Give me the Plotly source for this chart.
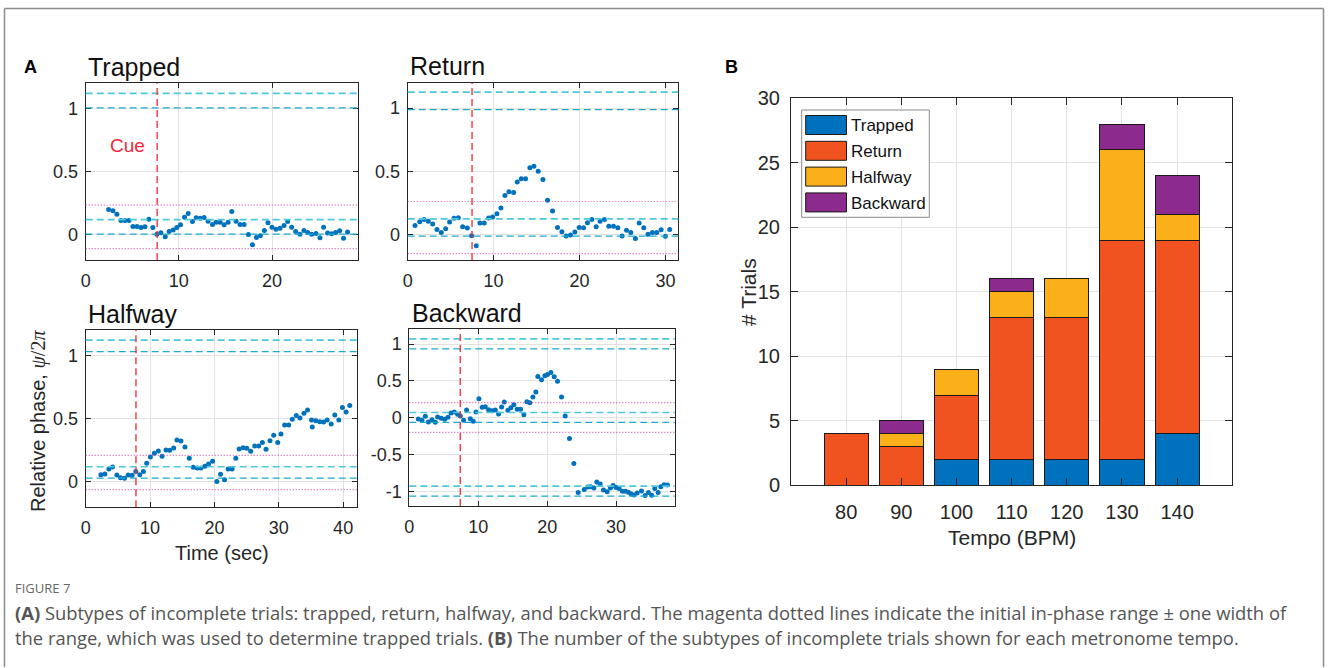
import plotly.graph_objects as go

W, H = 1328, 668
FONT = "Liberation Sans, Arial, sans-serif"
AX_COLOR = "#262626"
GRID = "#e2e2e2"

# ---------------- Panel A: relative phase time series ----------------
panel_names = ["Trapped", "Return", "Halfway", "Backward"]

trapped_t = [2.46, 2.93, 3.35, 3.78, 4.21, 4.64, 5.07, 5.50, 5.93, 6.36,
             6.78, 7.21, 7.64, 8.07, 8.54, 8.96, 9.39, 9.79, 10.18, 10.61,
             11.00, 11.46, 11.86, 12.29, 12.71, 13.14, 13.61, 14.00, 14.43, 14.86,
             15.29, 15.68, 16.14, 16.57, 17.00, 17.47, 17.90, 18.32, 18.75, 19.18,
             19.57, 20.00, 20.43, 20.86, 21.29, 21.68, 22.11, 22.54, 23.00, 23.43,
             23.83, 24.26, 24.72, 25.15, 25.54, 25.97, 26.40, 26.83, 27.26, 27.68,
             28.11]
trapped_phase = [0.200, 0.190, 0.163, 0.113, 0.113, 0.113, 0.066, 0.066, 0.058, 0.063,
                 0.123, 0.058, 0.005, 0.016, -0.016, 0.026, 0.037, 0.058, 0.079, 0.139,
                 0.168, 0.105, 0.134, 0.131, 0.137, 0.108, 0.081, 0.100, 0.100, 0.079,
                 0.100, 0.184, 0.108, 0.081, 0.081, 0.002, -0.079, -0.021, -0.008, 0.034,
                 0.095, 0.060, 0.044, 0.052, 0.073, 0.105, 0.060, 0.026, 0.005, 0.034,
                 0.018, 0.005, 0.010, -0.024, 0.060, 0.013, 0.008, 0.018, 0.031, -0.027,
                 0.021]

return_t = [0.85, 1.40, 1.90, 2.40, 2.91, 3.41, 3.91, 4.42, 4.88, 5.39,
            5.89, 6.40, 6.94, 7.44, 7.98, 8.41, 8.91, 9.42, 9.88, 10.39,
            10.85, 11.32, 11.78, 12.33, 12.75, 13.22, 13.72, 14.22, 14.69, 15.19,
            15.74, 16.28, 16.86, 17.44, 17.95, 18.45, 18.95, 19.46, 19.96, 20.47,
            20.93, 21.43, 21.94, 22.40, 22.91, 23.41, 23.95, 24.46, 24.96, 25.47,
            25.97, 26.51, 26.94, 27.48, 27.98, 28.49, 28.99, 29.50, 30.00, 30.50]
return_phase = [0.072, 0.103, 0.119, 0.106, 0.085, 0.041, 0.018, 0.046, 0.101, 0.129,
                0.134, 0.062, 0.052, -0.008, -0.088, 0.093, 0.093, 0.131, 0.139, 0.165,
                0.211, 0.309, 0.338, 0.333, 0.415, 0.441, 0.441, 0.528, 0.541, 0.500,
                0.436, 0.271, 0.186, 0.057, 0.023, -0.010, -0.003, 0.021, 0.057, 0.054,
                0.095, 0.119, 0.062, 0.106, 0.119, 0.067, 0.067, 0.054, -0.010, 0.034,
                0.018, -0.031, 0.093, 0.054, 0.003, 0.018, 0.018, 0.039, -0.013, 0.041]

halfway_t = [2.36, 2.98, 3.60, 4.17, 4.84, 5.41, 6.03, 6.59, 7.21, 7.78,
             8.40, 8.97, 9.48, 10.05, 10.67, 11.29, 11.86, 12.48, 13.05, 13.67,
             14.18, 14.80, 15.42, 16.09, 16.71, 17.33, 17.90, 18.52, 19.09, 19.71,
             20.38, 20.95, 21.57, 22.13, 22.75, 23.32, 23.84, 24.46, 25.03, 25.64,
             26.26, 26.88, 27.45, 28.02, 28.64, 29.21, 29.83, 30.34, 30.91, 31.53,
             32.10, 32.72, 33.29, 33.91, 34.47, 35.09, 35.20, 35.76, 36.38, 36.95,
             37.52, 38.14, 38.71, 39.33, 39.89, 40.46, 41.03]
halfway_phase = [0.058, 0.063, 0.103, 0.118, 0.055, 0.034, 0.029, 0.055, 0.053, 0.082,
                 0.058, 0.082, 0.147, 0.197, 0.226, 0.245, 0.203, 0.253, 0.250, 0.268,
                 0.332, 0.324, 0.276, 0.187, 0.116, 0.111, 0.111, 0.124, 0.142, 0.163,
                 0.003, 0.061, 0.018, 0.103, 0.103, 0.187, 0.261, 0.271, 0.266, 0.242,
                 0.284, 0.284, 0.311, 0.258, 0.326, 0.368, 0.311, 0.379, 0.450, 0.450,
                 0.495, 0.524, 0.505, 0.542, 0.568, 0.489, 0.434, 0.484, 0.476, 0.474,
                 0.489, 0.458, 0.529, 0.489, 0.589, 0.553, 0.603]

backward_t = [1.31, 1.84, 2.32, 2.76, 3.29, 3.77, 4.11, 4.64, 5.13, 5.61,
              6.04, 6.53, 7.01, 7.40, 7.88, 8.31, 8.85, 9.28, 9.67, 10.10,
              10.58, 11.02, 11.50, 11.99, 12.47, 12.95, 13.39, 13.77, 14.30, 14.74,
              15.17, 15.66, 16.14, 16.62, 17.06, 17.49, 17.93, 18.36, 18.65, 19.18,
              19.67, 20.05, 20.54, 21.02, 21.50, 22.08, 22.61, 23.24, 23.87, 24.50,
              25.37, 25.90, 26.29, 26.77, 27.20, 27.69, 28.17, 28.70, 29.18, 29.57,
              30.00, 30.44, 30.92, 31.36, 31.79, 32.18, 32.61, 33.05, 33.68, 34.21,
              34.69, 35.17, 35.61, 36.09, 36.48, 36.96, 37.45]
backward_phase = [-0.018, -0.036, 0.018, -0.059, -0.027, -0.063, 0.009, -0.009, -0.023, 0.005,
                  0.063, 0.077, 0.045, 0.023, -0.036, 0.104, -0.014, -0.050, 0.077, 0.257,
                  0.140, 0.149, 0.108, 0.095, 0.104, 0.050, 0.144, 0.212, 0.099, 0.135,
                  0.176, 0.113, 0.113, 0.041, 0.216, 0.203, 0.279, 0.347, 0.559, 0.514,
                  0.568, 0.586, 0.613, 0.554, 0.495, 0.279, 0.023, -0.284, -0.622, -1.018,
                  -0.977, -0.941, -0.937, -0.955, -0.874, -0.901, -0.982, -1.005, -0.955, -0.923,
                  -0.950, -0.964, -1.000, -1.000, -1.014, -1.036, -1.050, -1.023, -0.995, -1.059,
                  -1.018, -1.054, -0.964, -1.018, -0.937, -0.910, -0.914]

series_t = [trapped_t, return_t, halfway_t, backward_t]
series_phase = [trapped_phase, return_phase, halfway_phase, backward_phase]

cue_times = [7.67, 7.49, 7.81, 7.39]
inphase_lo = [0.005, -0.012, 0.030, -0.065]
inphase_hi = [0.120, 0.125, 0.120, 0.070]
time_max = [29.2, 31.5, 42.2, 38.5]
phase_lims = [(-0.2, 1.2), (-0.2, 1.2), (-0.2, 1.2), (-1.2, 1.2)]
time_ticks = [[0, 10, 20], [0, 10, 20, 30], [0, 10, 20, 30, 40], [0, 10, 20, 30]]
phase_ticks = [[0, 0.5, 1], [0, 0.5, 1], [0, 0.5, 1], [-1, -0.5, 0, 0.5, 1]]
phase_ticktext = [["0", "0.5", "1"], ["0", "0.5", "1"], ["0", "0.5", "1"],
                  ["-1", "-0.5", "0", "0.5", "1"]]

# ---------------- Panel B: subtype counts per tempo ----------------
tempos = [80, 90, 100, 110, 120, 130, 140]
subtypes = ["Trapped", "Return", "Halfway", "Backward"]
n_trapped = [0, 0, 2, 2, 2, 2, 4]
n_return = [4, 3, 5, 11, 11, 17, 15]
n_halfway = [0, 1, 2, 2, 3, 7, 2]
n_backward = [0, 1, 0, 1, 0, 2, 3]
counts = [n_trapped, n_return, n_halfway, n_backward]
subtype_colors = ["#0072BD", "#F0531F", "#FBB01A", "#8C2A8E"]


def px(x):
    return x / W


def py(y):
    return 1 - y / H


# pixel boxes (left, right, top, bottom) of each axes
panel_boxes = [(85.7, 357.7, 83.3, 260.0), (407.7, 678.3, 82.7, 260.0),
               (85.7, 357.3, 330.0, 507.3), (409.3, 674.7, 329.3, 506.0)]
bar_box = (791.0, 1232.3, 98.3, 485.3)

fig = go.Figure()
layout = dict(width=W, height=H,
              margin=dict(l=0, r=0, t=0, b=0, pad=0, autoexpand=False),
              paper_bgcolor="white", plot_bgcolor="white", showlegend=False,
              font=dict(family=FONT, color=AX_COLOR))
shapes = []
annotations = []


def axis_style(**kw):
    d = dict(showline=True, linecolor=AX_COLOR, linewidth=1, mirror="ticks",
             ticks="inside", tickcolor=AX_COLOR, showgrid=True, gridcolor=GRID,
             gridwidth=1, zeroline=False, automargin=False,
             tickfont=dict(family=FONT, size=18, color=AX_COLOR))
    d.update(kw)
    return d


for i in range(4):
    sfx = "" if i == 0 else str(i + 1)
    xr, yr = "x" + sfx, "y" + sfx
    l, r, t, b = panel_boxes[i]
    lo, hi = inphase_lo[i], inphase_hi[i]
    ymin, ymax = phase_lims[i]
    layout["xaxis" + sfx] = axis_style(domain=[px(l), px(r)], anchor=yr,
                                       range=[0, time_max[i]], tickvals=time_ticks[i],
                                       ticklen=5, ticklabelstandoff=4)
    layout["yaxis" + sfx] = axis_style(domain=[py(b), py(t)], anchor=xr,
                                       range=[ymin, ymax], tickvals=phase_ticks[i],
                                       ticktext=phase_ticktext[i], ticklen=5,
                                       ticklabelstandoff=3)

    fig.add_trace(go.Scatter(x=series_t[i], y=series_phase[i], mode="markers",
                             marker=dict(color="#0072BD", size=5, line=dict(width=0)),
                             xaxis=xr, yaxis=yr, hoverinfo="x+y"))

    # in-phase range (and its copies one cycle away) as cyan dashed lines
    for k in (-1, 0, 1):
        for val, col, wd in ((lo + k, "#1aaacd", 1.3), (hi + k, "#4cc9dc", 1.7)):
            if ymin < val < ymax:
                shapes.append(dict(type="line", xref=xr + " domain", yref=yr,
                                   x0=0, x1=1, y0=val, y1=val, layer="above",
                                   line=dict(color=col, width=wd, dash="7px,4px")))
    # initial range +/- one width: magenta dotted
    width = hi - lo
    for val in (lo - width, hi + width):
        shapes.append(dict(type="line", xref=xr + " domain", yref=yr,
                           x0=0, x1=1, y0=val, y1=val, layer="above",
                           line=dict(color="rgba(214,60,172,0.85)", width=1.2,
                                     dash="1px,2px")))
    # cue onset
    shapes.append(dict(type="line", xref=xr, yref=yr + " domain",
                       x0=cue_times[i], x1=cue_times[i], y0=0, y1=1, layer="above",
                       line=dict(color="#f5262e", width=1.3, dash="7px,4px")))

    # panel title
    annotations.append(dict(text=panel_names[i], xref="paper", yref="paper",
                            x=px(l + 0.5), y=py(t - 16.5), xanchor="left", yanchor="middle",
                            showarrow=False, font=dict(family=FONT, size=25, color="#111111")))

annotations.append(dict(text="Cue", xref="x", yref="y", x=4.5, y=0.71, showarrow=False,
                        xanchor="center", yanchor="middle",
                        font=dict(family=FONT, size=19, color="#f0283a")))
annotations.append(dict(text="Time (sec)", xref="paper", yref="paper", x=px(221.7), y=py(553),
                        xanchor="center", yanchor="middle", showarrow=False,
                        font=dict(family=FONT, size=20, color=AX_COLOR)))
annotations.append(dict(
    text=("Relative phase, <span style=\"font-family:Liberation Serif, serif\">"
          "<i>ψ</i>/2<i>π</i></span>"),
    xref="paper", yref="paper", x=px(38), y=py(421), textangle=-90,
    xanchor="center", yanchor="middle", showarrow=False,
    font=dict(family=FONT, size=20, color=AX_COLOR)))

# ---------------- stacked bars ----------------
l, r, t, b = bar_box
layout["xaxis5"] = axis_style(domain=[px(l), px(r)], anchor="y5", range=[70, 150],
                              tickvals=tempos, ticklen=7, ticklabelstandoff=9,
                              tickfont=dict(family=FONT, size=20, color=AX_COLOR))
layout["yaxis5"] = axis_style(domain=[py(b), py(t)], anchor="x5", range=[0, 30],
                              tickvals=[0, 5, 10, 15, 20, 25, 30], ticklen=7,
                              ticklabelstandoff=6,
                              tickfont=dict(family=FONT, size=20, color=AX_COLOR))
for name, vals, col in zip(subtypes, counts, subtype_colors):
    fig.add_trace(go.Bar(x=tempos, y=vals, name=name, width=8, marker=dict(
        color=col, line=dict(color="#1a1a1a", width=1)), xaxis="x5", yaxis="y5"))
layout["barmode"] = "stack"

annotations.append(dict(text="Tempo (BPM)", xref="paper", yref="paper", x=px(1011.7), y=py(537),
                        xanchor="center", yanchor="middle", showarrow=False,
                        font=dict(family=FONT, size=21, color=AX_COLOR)))
annotations.append(dict(text="# Trials", xref="paper", yref="paper", x=px(748), y=py(292),
                        textangle=-90, xanchor="center", yanchor="middle", showarrow=False,
                        font=dict(family=FONT, size=21, color=AX_COLOR)))

# legend box drawn by hand so the swatches keep their wide shape
leg_l, leg_r, leg_t, leg_b = 801.7, 929.3, 110.0, 217.3
shapes.append(dict(type="rect", xref="paper", yref="paper", x0=px(leg_l), x1=px(leg_r),
                   y0=py(leg_b), y1=py(leg_t), line=dict(color="#8a8a8a", width=1),
                   fillcolor="white", layer="above"))
for j, (name, col) in enumerate(zip(subtypes, subtype_colors)):
    yc = 125.0 + j * 25.8
    shapes.append(dict(type="rect", xref="paper", yref="paper", x0=px(805.7), x1=px(846.5),
                       y0=py(yc + 9.5), y1=py(yc - 9.5), fillcolor=col,
                       line=dict(color="#1a1a1a", width=1), layer="above"))
    annotations.append(dict(text=name, xref="paper", yref="paper", x=px(849), y=py(yc + 1),
                            xanchor="left", yanchor="middle", showarrow=False,
                            font=dict(family=FONT, size=17, color="#111111")))

# panel letters
for letter, xl in (("A", 30.7), ("B", 731.7)):
    annotations.append(dict(text="<b>%s</b>" % letter, xref="paper", yref="paper", x=px(xl),
                            y=py(66.7), xanchor="center", yanchor="middle", showarrow=False,
                            font=dict(family=FONT, size=18, color="#000000")))

# caption
CAP_FONT = "Open Sans, Noto Sans, sans-serif"
annotations.append(dict(text="FIGURE 7", xref="paper", yref="paper", x=px(13), y=py(588),
                        xanchor="left", yanchor="middle", showarrow=False,
                        font=dict(family=CAP_FONT, size=13, color="#666666")))
cap1 = ("<b>(A)</b> Subtypes of incomplete trials: trapped, return, halfway, and backward. "
        "The magenta dotted lines indicate the initial in-phase range ± one width of")
cap2 = ("the range, which was used to determine trapped trials. <b>(B)</b> The number of the "
        "subtypes of incomplete trials shown for each metronome tempo.")
for txt, yc in ((cap1, 612), (cap2, 637)):
    annotations.append(dict(text=txt, xref="paper", yref="paper", x=px(13), y=py(yc),
                            xanchor="left", yanchor="middle", showarrow=False,
                            font=dict(family=CAP_FONT, size=18.4, color="#555555")))

# outer frame: left, top and right edges
frame = dict(color="#8c8c8c", width=1.5)
for x0, y0, x1, y1 in ((4.5, 8.5, 4.5, 667.0), (4.5, 8.5, 1323.5, 8.5),
                       (1323.5, 8.5, 1323.5, 667.0)):
    shapes.append(dict(type="line", xref="paper", yref="paper", x0=px(x0), y0=py(y0),
                       x1=px(x1), y1=py(y1), line=frame, layer="above"))

layout["shapes"] = shapes
layout["annotations"] = annotations
fig.update_layout(**layout)
fig.write_html("out.html")
